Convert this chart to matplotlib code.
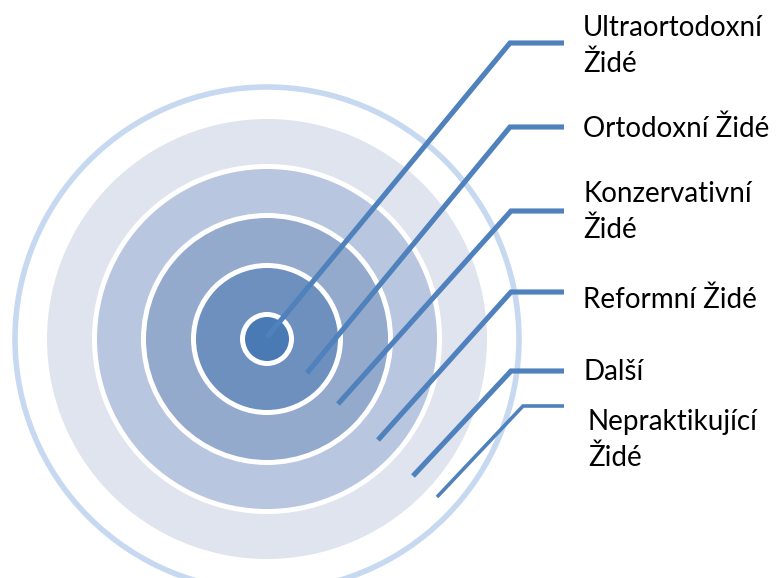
import matplotlib.pyplot as plt
from matplotlib.patches import Circle

#%% data
labels = ['Ultraortodoxní\nŽidé', 'Ortodoxní Židé', 'Konzervativní\nŽidé',
          'Reformní Židé', 'Další', 'Nepraktikující\nŽidé']

# ring radii (px), outermost first, and fill colours
ring_r = [220, 170, 121, 71, 22]
ring_col = ['#dfe4ef', '#b9c6df', '#94aacc', '#6e90bf', '#4a7ab4']
outline_r = 252
outline_col = '#c6d9f0'

# leader lines: start point inside ring, elbow, end of horizontal part
start_x = [267, 307, 338, 378, 413, 437]
start_y = [337, 373, 404, 440, 476, 497]
elbow_x = [510, 510, 511, 511, 511, 523]
elbow_y = [43, 127, 211, 292, 371, 406]
end_x = 564
line_w = [3.7, 3.7, 3.7, 3.7, 3.7, 2.6]

# text: left x and baseline of first line
text_x = [583, 583, 583, 583, 583, 588]
text_base = [36, 137, 202, 308, 380, 430]
line_gap = 36

cx, cy = 267, 339

#%% plot
fig = plt.figure(figsize=(7.77, 5.78), dpi=100)
ax = fig.add_axes([0, 0, 1, 1])
ax.set_xlim(0, 777)
ax.set_ylim(578, 0)
ax.set_aspect('equal')
ax.axis('off')

ax.add_patch(Circle((cx, cy), outline_r, facecolor='none',
                    edgecolor=outline_col, lw=4.0))
for i, (r, c) in enumerate(zip(ring_r, ring_col)):
    if i > 0:
        ax.add_patch(Circle((cx, cy), r + 5, color='white', lw=0))
    ax.add_patch(Circle((cx, cy), r, color=c, lw=0))

for i in range(len(labels)):
    ax.plot([start_x[i], elbow_x[i], end_x], [start_y[i], elbow_y[i], elbow_y[i]],
            color='#4f81bd', lw=line_w[i], solid_capstyle='butt',
            solid_joinstyle='miter')
    for k, part in enumerate(labels[i].split('\n')):
        ax.text(text_x[i], text_base[i] + k * line_gap, part, fontsize=20,
                family='Lato', va='baseline', ha='left', color='black')

fig.savefig('out.png', dpi=100)
